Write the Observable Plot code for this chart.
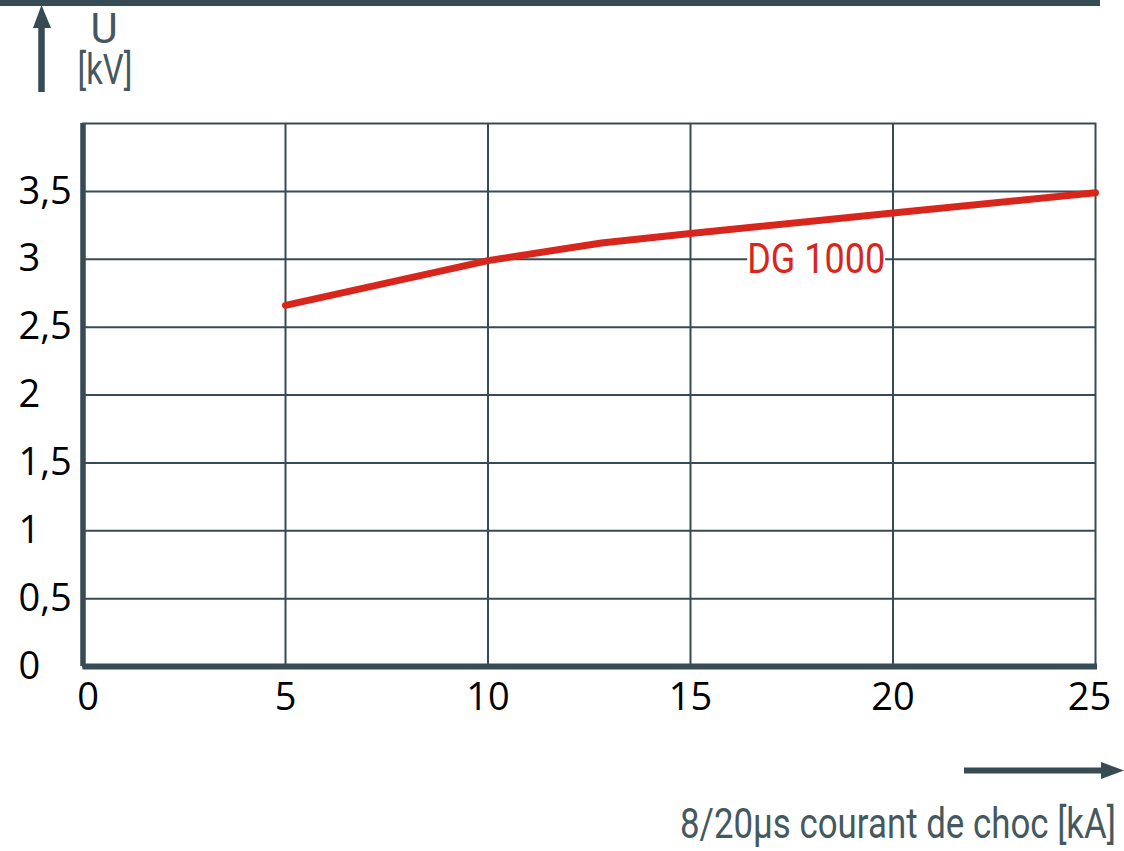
<!DOCTYPE html>
<html>
<head>
<meta charset="utf-8">
<script src="https://cdn.jsdelivr.net/npm/d3@7"></script>
<script src="https://cdn.jsdelivr.net/npm/@observablehq/plot@0.6"></script>
<style>
  html, body { margin: 0; padding: 0; background: #fff; }
  #chart svg { display: block; }
</style>
</head>
<body>
<div id="chart"></div>
<script>
// Data
const currentKA = [5, 10, 12.8, 15, 20, 25];
const voltageKV = [2.66, 2.99, 3.12, 3.19, 3.34, 3.49];
const xTicks = [0, 5, 10, 15, 20, 25];
const yTicks = [0, 0.5, 1, 1.5, 2, 2.5, 3, 3.5];
const seriesName = "DG 1000";
const yTitleLines = ["U", "[kV]"];
const xTitle = "8/20µs courant de choc [kA]";

const dark = "#364b54";
const red = "#d8261c";
const data = currentKA.map((x, i) => ({x, y: voltageKV[i]}));

const fmt = d => String(d).replace(".", ",");

const chart = Plot.plot({
  width: 1124,
  height: 851,
  marginLeft: 82.5,
  marginRight: 29,
  marginTop: 123,
  marginBottom: 185,
  style: {fontFamily: "'Open Sans', sans-serif", background: "#fff"},
  x: {domain: [0, 25], ticks: xTicks, label: null},
  y: {domain: [0, 4], ticks: yTicks, label: null},
  marks: [
    Plot.ruleX(xTicks.filter(d => d > 0 && d < 25), {stroke: dark, strokeWidth: 2}),
    Plot.ruleY(yTicks.filter(d => d > 0), {stroke: dark, strokeWidth: 2}),
    Plot.frame({stroke: dark, strokeWidth: 2}),
    Plot.ruleX([0], {stroke: dark, strokeWidth: 5.5}),
    Plot.ruleY([0], {stroke: dark, strokeWidth: 6, x1: 0, x2: 25.05}),
    Plot.line(data, {x: "x", y: "y", stroke: red, strokeWidth: 7}),
    Plot.text([{x: 16.4, y: 3.0, t: seriesName}], {
      x: "x", y: "y", text: "t", textAnchor: "start",
      fill: red, fontSize: 43, fontFamily: "Roboto"
    }),
    Plot.axisX({ticks: xTicks, tickSize: 0, tickPadding: 17, fontSize: 38, tickFormat: fmt, fill: "#000", label: null}),
    Plot.axisY({ticks: yTicks, tickSize: 0, tickPadding: 0, dx: -64.5, textAnchor: "start", fontSize: 38, tickFormat: fmt, fill: "#000", label: null})
  ]
});

document.getElementById("chart").appendChild(chart);

const svg = d3.select(chart);
// condense series label and clear the grid behind it
svg.selectAll("g[aria-label=text] text").each(function() {
  const t = d3.select(this)
    .attr("textLength", 138).attr("lengthAdjust", "spacingAndGlyphs");
  const bb = this.getBBox();
  const ctm = this.getAttribute("transform");
  d3.select(this.parentNode).insert("rect", () => this)
    .attr("x", bb.x).attr("y", bb.y + 4).attr("width", bb.width).attr("height", bb.height - 8)
    .attr("transform", ctm).attr("fill", "white");
});

// nudge end x tick labels inward as in the reference
const xLabels = svg.selectAll("g[aria-label='x-axis tick label'] text").nodes();
if (xLabels.length) {
  d3.select(xLabels[0]).attr("dx", 5);
  d3.select(xLabels[xLabels.length - 1]).attr("dx", -6);
}

// decorations
const deco = svg.append("g");
deco.append("rect").attr("x", 0).attr("y", 0).attr("width", 1100).attr("height", 6).attr("fill", dark);
// up arrow
deco.append("line").attr("x1", 41.5).attr("x2", 41.5).attr("y1", 92).attr("y2", 24)
  .attr("stroke", dark).attr("stroke-width", 6.5);
deco.append("path").attr("d", "M33,28 L41.5,5 L51,28 Z").attr("fill", dark);
// right arrow
deco.append("line").attr("x1", 964).attr("x2", 1106).attr("y1", 770.5).attr("y2", 770.5)
  .attr("stroke", dark).attr("stroke-width", 6);
deco.append("path").attr("d", "M1101,762 L1124,770.5 L1101,779 Z").attr("fill", dark);

const titleColor = "#44595f";
const yt = deco.append("text").attr("font-family", "Roboto").attr("font-size", 42)
  .attr("fill", titleColor).attr("text-anchor", "middle");
yt.append("tspan").attr("x", 104).attr("y", 43).text(yTitleLines[0]);
yt.append("tspan").attr("x", 105).attr("y", 84).attr("textLength", 55).attr("lengthAdjust", "spacingAndGlyphs").text(yTitleLines[1]);

deco.append("text").attr("font-family", "Roboto").attr("font-size", 42)
  .attr("fill", titleColor).attr("text-anchor", "end")
  .attr("x", 1116).attr("y", 838)
  .attr("textLength", 436).attr("lengthAdjust", "spacingAndGlyphs")
  .text(xTitle);
</script>
</body>
</html>
